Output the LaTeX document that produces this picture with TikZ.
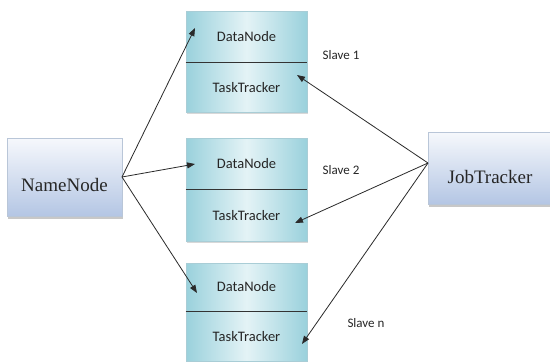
\documentclass[tikz,border=0pt]{standalone}
\usepackage{fontspec}
\setmainfont{Liberation Serif}
\newfontfamily\carlito{Carlito}
\usetikzlibrary{arrows.meta,shadows}

\definecolor{cyanedge}{HTML}{9AD1DC}
\definecolor{cyanmid}{HTML}{E4F3F6}
\definecolor{cyanline}{HTML}{A9CDD6}
\definecolor{bluetop}{HTML}{F6F8FC}
\definecolor{bluebot}{HTML}{B4C6E4}
\definecolor{blueline}{HTML}{B9C6D8}
\definecolor{arrowgray}{HTML}{2A2A2A}

\tikzset{
  mainbox/.style={draw=blueline, line width=0.6pt, top color=bluetop, bottom color=bluebot,
    drop shadow={shadow xshift=1pt, shadow yshift=-2.5pt, fill=gray!60, opacity=0.7},
    font=\fontsize{19}{22}\selectfont, inner sep=0pt, text=black!85},
  slavebox/.style={draw=cyanline, line width=0.6pt, left color=cyanedge, right color=cyanedge,
    middle color=cyanmid, minimum width=121pt, inner sep=0pt,
    font=\carlito\fontsize{14.5}{16}\selectfont, text=black!85,
    drop shadow={shadow xshift=1pt, shadow yshift=-1.5pt, fill=gray!50, opacity=0.6}},
  divider/.style={draw=black!80, line width=0.9pt},
  link/.style={draw=arrowgray, line width=0.8pt, -{Triangle[length=8pt, width=6pt]}},
  slavelabel/.style={font=\carlito\fontsize{13}{15}\selectfont, inner sep=0pt, text=black!85}
}

\begin{document}
\begin{tikzpicture}[x=1pt, y=-1pt]
  \useasboundingbox (0,0) rectangle (550,362);
  \fill[white] (0,0) rectangle (550,362);

  % master nodes, text sitting a little below the middle
  \node[mainbox, minimum width=115pt, minimum height=78pt] (nn) at (64.5,177)
    {\raisebox{-14pt}[0pt][0pt]{NameNode}};
  \node[mainbox, minimum width=124pt, minimum height=72pt] (jt) at (490,168)
    {\raisebox{-15pt}[0pt][0pt]{JobTracker}};

  % slave stacks: DataNode above TaskTracker
  \node[slavebox, minimum height=51pt] (dn1) at (246.5,36.5) {DataNode};
  \node[slavebox, minimum height=50pt, anchor=north] (tt1) at (dn1.south) {TaskTracker};
  \node[slavebox, minimum height=51pt] (dn2) at (246.5,163.5) {DataNode};
  \node[slavebox, minimum height=52pt, anchor=north] (tt2) at (dn2.south) {TaskTracker};
  \node[slavebox, minimum height=48pt] (dn3) at (246.5,287) {DataNode};
  \node[slavebox, minimum height=50pt, anchor=north] (tt3) at (dn3.south) {TaskTracker};
  \foreach \s in {1,2,3} {
    \draw[divider] (dn\s.south west) -- (dn\s.south east);
  }

  % slave labels
  \node[slavelabel] (s1) at (341,55) {Slave 1};
  \node[slavelabel] (s2) at (341,170) {Slave 2};
  \node[slavelabel] (sn) at (366,323) {Slave n};

  % arrow tips inside the slave boxes
  \coordinate (a1) at (195,28);
  \coordinate (a2) at (195,164);
  \coordinate (a3) at (197,293);
  \coordinate (b1) at (297,75);
  \coordinate (b2) at (295,223);
  \coordinate (b3) at (302,344);
  \coordinate (nnout) at (122,177);
  \coordinate (jtout) at (428,163);

  % NameNode to DataNodes
  \draw[link] (nnout) -- (a1);
  \draw[link] (nnout) -- (a2);
  \draw[link] (nnout) -- (a3);
  % JobTracker to TaskTrackers
  \draw[link] (jtout) -- (b1);
  \draw[link] (jtout) -- (b2);
  \draw[link] (jtout) -- (b3);
\end{tikzpicture}
\end{document}
